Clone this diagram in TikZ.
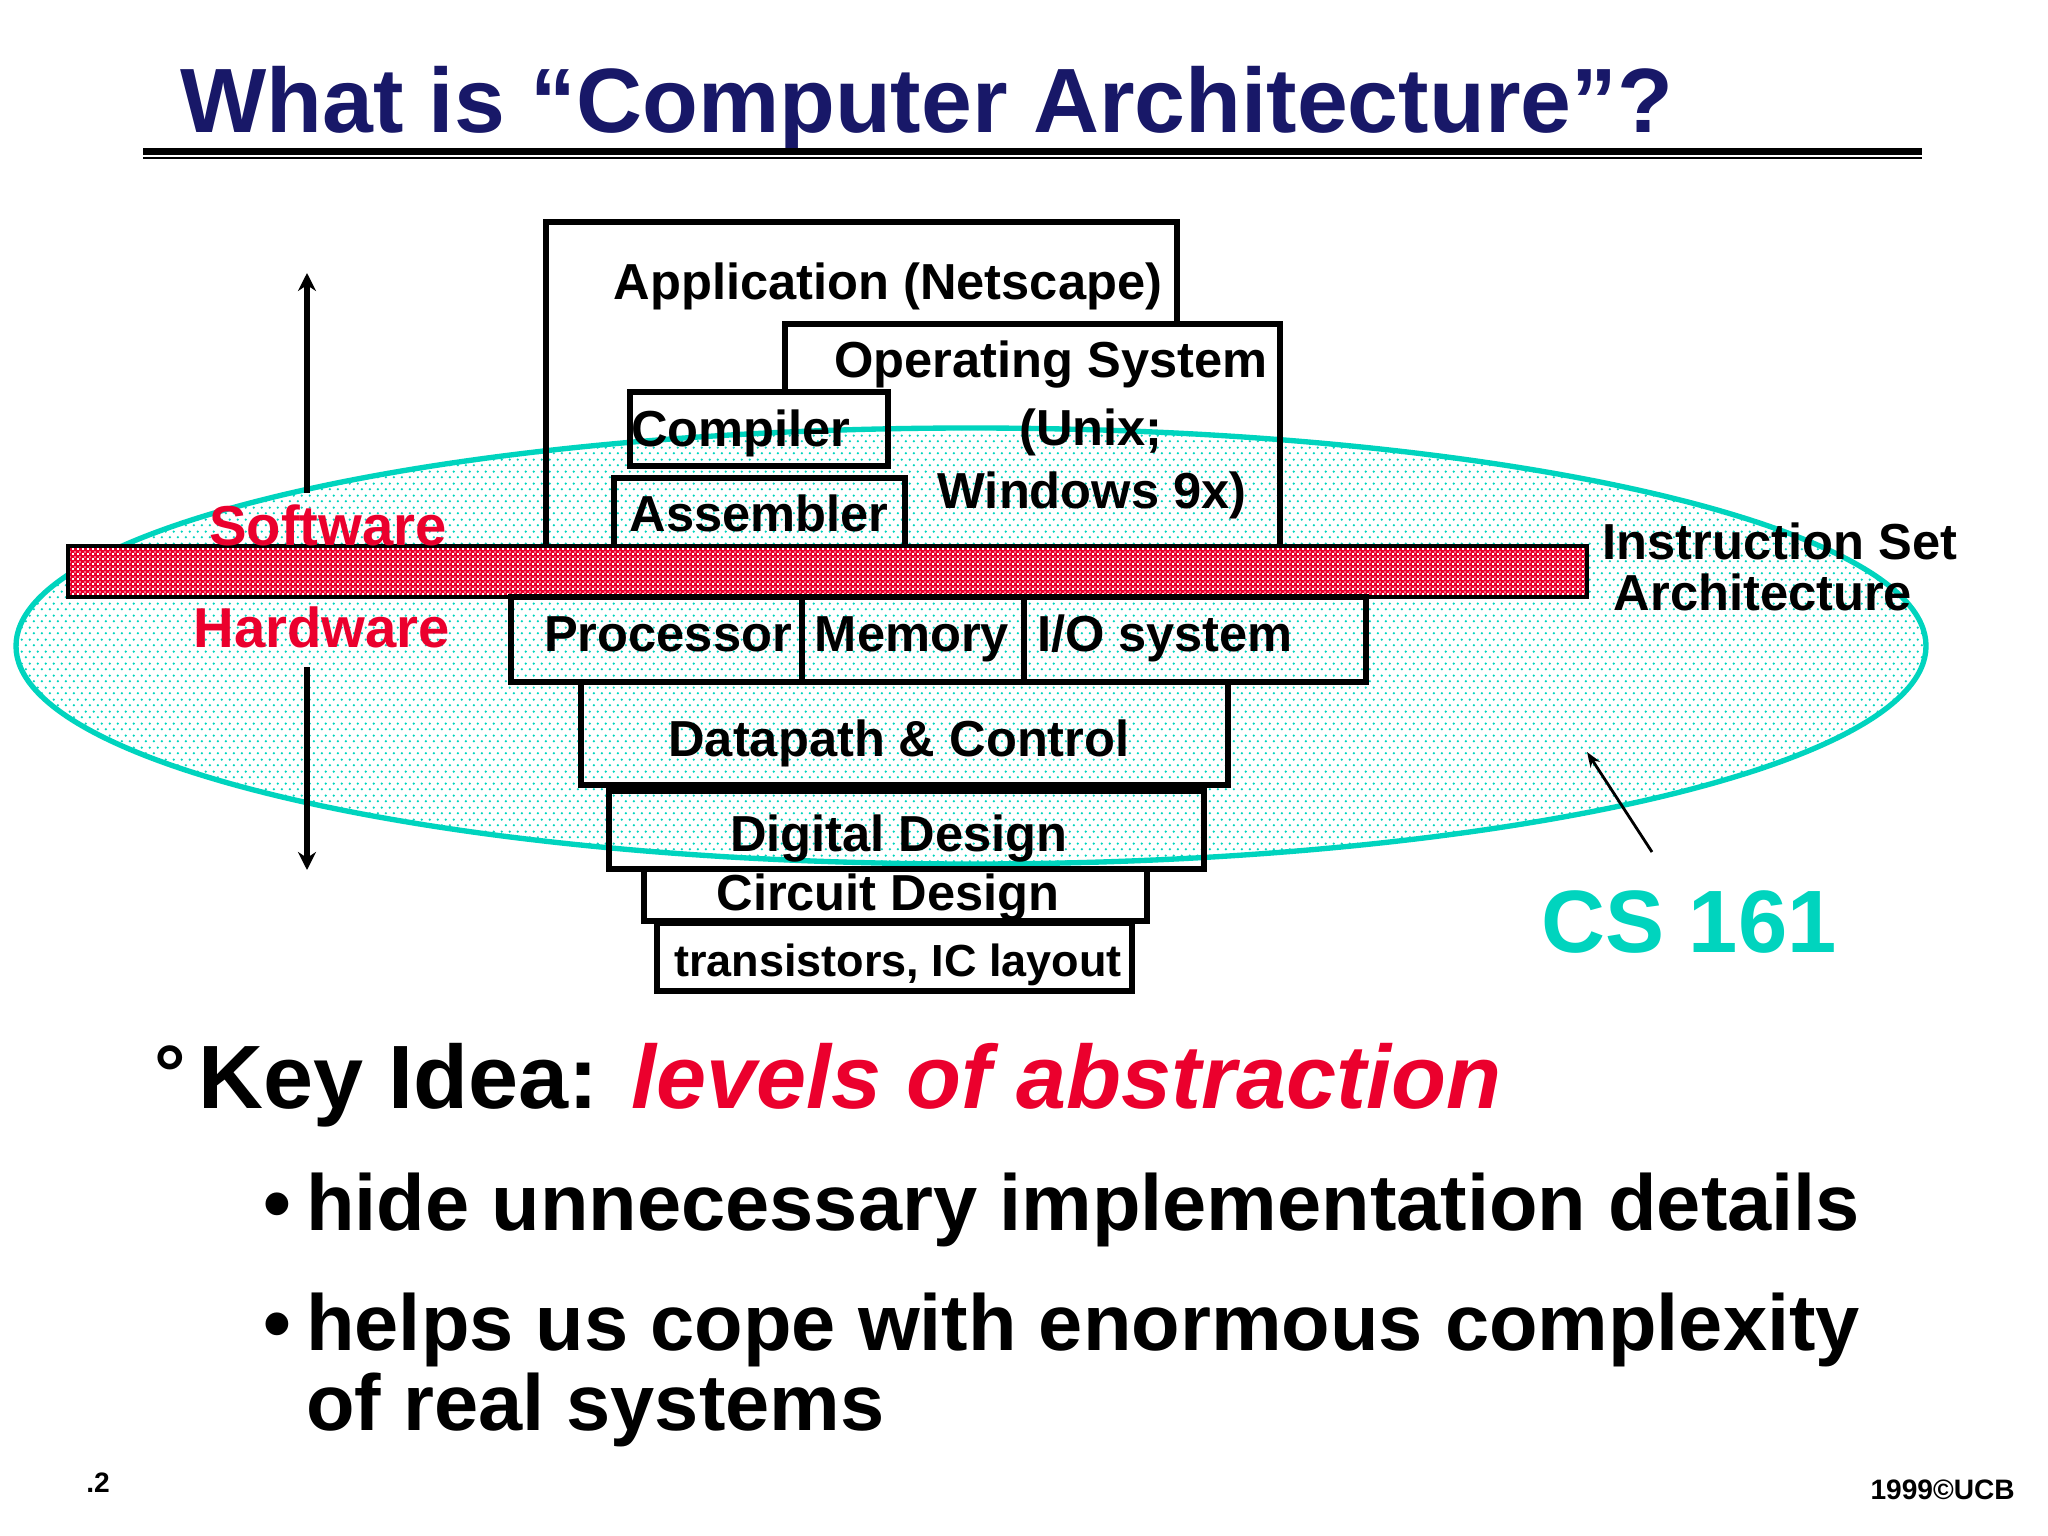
\documentclass[tikz,border=0pt]{standalone}
\usepackage{fontspec}
\setmainfont{Liberation Sans}
\usetikzlibrary{patterns.meta,arrows.meta}
\definecolor{navy}{RGB}{24,24,104}
\definecolor{tealc}{RGB}{0,212,190}
\definecolor{redc}{RGB}{235,0,45}
\tikzdeclarepattern{name=tdots, type=uncolored,
  bounding box={(0,0) and (2.1mm,3mm)}, tile size={(2.1mm,3mm)},
  code={\fill (0.5mm,0.75mm) circle[radius=0.33mm]; \fill (1.55mm,2.25mm) circle[radius=0.33mm];}}
\tikzdeclarepattern{name=checker, type=uncolored,
  bounding box={(0,0) and (1.2mm,1.2mm)}, tile size={(1.2mm,1.2mm)},
  code={\fill (0,0) rectangle (0.5mm,0.5mm); \fill (0.6mm,0.6mm) rectangle (0.95mm,0.95mm);}}
\begin{document}
\begin{tikzpicture}[x=0.25mm,y=-0.25mm,
  boxline/.style={draw=black, line width=3.8pt, line join=miter},
  lbl/.style={font=\fontsize{36pt}{40pt}\selectfont\bfseries, inner sep=0pt, anchor=base},
  redlbl/.style={font=\fontsize{40pt}{44pt}\selectfont\bfseries, text=redc, inner sep=0pt, anchor=base},
  bigtxt/.style={font=\fontsize{64pt}{70pt}\selectfont\bfseries, inner sep=0pt, anchor=base west},
  bultxt/.style={font=\fontsize{56.5pt}{60pt}\selectfont\bfseries, inner sep=0pt, anchor=base west},
  smalltxt/.style={font=\fontsize{20pt}{22pt}\selectfont\bfseries, inner sep=0pt},
  thickarrow/.style={line width=3.8pt, -{Stealth[length=4.5mm,width=4.5mm]}},
  thinarrow/.style={line width=2pt, -{Stealth[length=3.8mm,width=2.8mm]}}]
\fill[white] (0,0) rectangle (2048,1536);
\useasboundingbox (0,0) rectangle (2048,1536);

% title
\node[font=\fontsize{65pt}{70pt}\selectfont\bfseries, text=navy, inner sep=0pt, anchor=base west] (title) at (180,133) {What is “Computer Architecture”?};
\draw[line width=1.75mm] (143,151.5) -- (1922,151.5);
\draw[line width=0.6mm] (143,158) -- (1922,158);

% ellipse (CS 161 scope)
\fill[pattern=tdots, pattern color=tealc] (971,646) ellipse [x radius=955, y radius=218];
\draw[tealc, line width=3.8pt] (971,646) ellipse [x radius=955, y radius=218];

% ISA bar
\fill[redc] (68,546) rectangle (1587,597);
\fill[pattern=checker, pattern color=white] (68,546) rectangle (1587,597);
\draw[line width=2.5pt] (68,546) rectangle (1587,597);

% software boxes
\draw[boxline] (546,546) -- (546,222) -- (1177,222) -- (1177,324);
\draw[boxline] (785,392) -- (785,324) -- (1280,324) -- (1280,546);
\draw[boxline] (630,392) rectangle (888,466);
\draw[boxline] (614,546) -- (614,478) -- (905,478) -- (905,546);

% hardware boxes
\draw[boxline] (511,597) rectangle (802,682);
\draw[boxline] (802,597) rectangle (1024,682);
\draw[boxline] (1024,597) rectangle (1366,682);
\draw[boxline] (581,682) rectangle (1228,785);
\draw[boxline] (609,791) rectangle (1204,869);
\draw[boxline] (644,869) rectangle (1147,921);
\draw[boxline] (657,923) rectangle (1132,991);

% labels
\node[lbl] (app) at (888,299) {Application (Netscape)};
\node[lbl] (os) at (1051,377) {Operating System};
\node[lbl] (unix) at (1091,445) {(Unix;};
\node[lbl] (win) at (1092,508) {Windows 9x)};
\node[lbl] (comp) at (741,446) {Compiler};
\node[lbl] (asm) at (759,531) {Assembler};
\node[lbl] (proc) at (668,651) {Processor};
\node[lbl] (mem) at (912,651) {Memory};
\node[lbl] (io) at (1165,651) {I/O system};
\node[lbl] (dp) at (899,756) {Datapath \& Control};
\node[lbl] (dd) at (899,851) {Digital Design};
\node[lbl] (cd) at (888,910) {Circuit Design};
\node[lbl, font=\fontsize{32pt}{36pt}\selectfont\bfseries] (tr) at (898,976) {transistors, IC layout};
\node[redlbl] (sw) at (328,545) {Software};
\node[redlbl] (hw) at (322,647) {Hardware};
\node[lbl] (isa1) at (1780,559) {Instruction Set};
\node[lbl] (isa2) at (1763,610) {Architecture};
\node[font=\fontsize{63pt}{68pt}\selectfont\bfseries, text=tealc, inner sep=0pt, anchor=base west] (cs) at (1541,952) {CS 161};

% arrows
\coordinate (upfrom) at (307,493);
\coordinate (upto) at (307,273);
\coordinate (downfrom) at (307,667);
\coordinate (downto) at (307,870);
\draw[thickarrow] (upfrom) -- (upto);
\draw[thickarrow] (downfrom) -- (downto);
\coordinate (cstail) at (1652,852);
\coordinate (cstip) at (1587,752);
\draw[thinarrow] (cstail) -- (cstip);

% bullets
\node[font=\fontsize{56pt}{60pt}\selectfont\bfseries, inner sep=0pt, anchor=base] (deg) at (170,1100) {°};
\node[bigtxt] (key) at (198,1108) {Key Idea: \textcolor{redc}{\itshape levels of abstraction}};
\node[bultxt, anchor=base] (b1) at (277,1230) {•};
\node[bultxt] (t1) at (306,1230) {hide unnecessary implementation details};
\node[bultxt, anchor=base] (b2) at (277,1350) {•};
\node[bultxt] (t2) at (306,1350) {helps us cope with enormous complexity};
\node[bultxt] (t3) at (306,1430) {of real systems};

% footer
\node[smalltxt, anchor=base west] (pg) at (86,1492) {.2};
\node[smalltxt, anchor=base east] (cr) at (2015,1499) {1999©UCB};
\end{tikzpicture}
\end{document}
